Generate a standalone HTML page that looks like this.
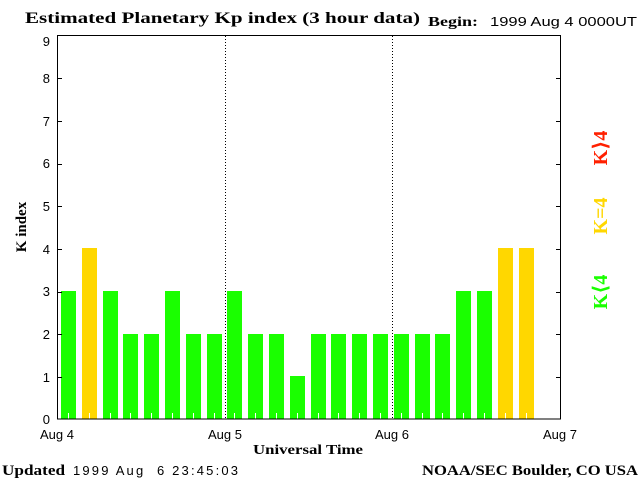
<!DOCTYPE html>
<html><head><meta charset="utf-8"><style>body{margin:0;background:#fff}svg{display:block}</style></head>
<body>
<svg width="640" height="480" xmlns="http://www.w3.org/2000/svg">
<rect width="640" height="480" fill="#fff"/>
<text x="25" y="23" font-family="Liberation Serif, serif" font-weight="bold" font-size="16" textLength="395" lengthAdjust="spacingAndGlyphs">Estimated Planetary Kp index (3 hour data)</text>
<text x="428" y="26" font-family="Liberation Serif, serif" font-weight="bold" font-size="14" textLength="50" lengthAdjust="spacingAndGlyphs">Begin:</text>
<text x="490" y="26" font-family="Liberation Sans, sans-serif" font-size="13" textLength="147" lengthAdjust="spacingAndGlyphs">1999 Aug 4 0000UT</text>
<g>
<rect x="61" y="291" width="15" height="128" fill="#1aff00"/>
<rect x="82" y="248" width="15" height="171" fill="#ffd700"/>
<rect x="103" y="291" width="15" height="128" fill="#1aff00"/>
<rect x="123" y="334" width="15" height="85" fill="#1aff00"/>
<rect x="144" y="334" width="15" height="85" fill="#1aff00"/>
<rect x="165" y="291" width="15" height="128" fill="#1aff00"/>
<rect x="186" y="334" width="15" height="85" fill="#1aff00"/>
<rect x="207" y="334" width="15" height="85" fill="#1aff00"/>
<rect x="227" y="291" width="15" height="128" fill="#1aff00"/>
<rect x="248" y="334" width="15" height="85" fill="#1aff00"/>
<rect x="269" y="334" width="15" height="85" fill="#1aff00"/>
<rect x="290" y="376" width="15" height="43" fill="#1aff00"/>
<rect x="311" y="334" width="15" height="85" fill="#1aff00"/>
<rect x="331" y="334" width="15" height="85" fill="#1aff00"/>
<rect x="352" y="334" width="15" height="85" fill="#1aff00"/>
<rect x="373" y="334" width="15" height="85" fill="#1aff00"/>
<rect x="394" y="334" width="15" height="85" fill="#1aff00"/>
<rect x="415" y="334" width="15" height="85" fill="#1aff00"/>
<rect x="435" y="334" width="15" height="85" fill="#1aff00"/>
<rect x="456" y="291" width="15" height="128" fill="#1aff00"/>
<rect x="477" y="291" width="15" height="128" fill="#1aff00"/>
<rect x="498" y="248" width="15" height="171" fill="#ffd700"/>
<rect x="519" y="248" width="15" height="171" fill="#ffd700"/>
</g>
<path stroke="#fff" stroke-width="1" d="M68.5 413v6M89.5 413v6M110.5 413v6M130.5 413v6M151.5 413v6M172.5 413v6M193.5 413v6M214.5 413v6M234.5 413v6M255.5 413v6M276.5 413v6M297.5 413v6M318.5 413v6M338.5 413v6M359.5 413v6M380.5 413v6M401.5 413v6M422.5 413v6M442.5 413v6M463.5 413v6M484.5 413v6M505.5 413v6M526.5 413v6"/>
<g stroke="#000" stroke-width="1" fill="none">
<rect x="57.5" y="35.5" width="503" height="383.5"/>
<line x1="225.5" y1="36" x2="225.5" y2="419" stroke-dasharray="1,2"/>
<line x1="392.5" y1="36" x2="392.5" y2="419" stroke-dasharray="1,2"/>
<path d="M57 377.5h5M57 334.5h5M57 292.5h5M57 249.5h5M57 206.5h5M57 164.5h5M57 121.5h5M57 78.5h5M561 377.5h-5M561 334.5h-5M561 292.5h-5M561 249.5h-5M561 206.5h-5M561 164.5h-5M561 121.5h-5M561 78.5h-5"/>
</g>
<g font-family="Liberation Sans, sans-serif" font-size="13" text-anchor="end">
<text x="50" y="424">0</text><text x="50" y="382">1</text><text x="50" y="339">2</text><text x="50" y="296">3</text><text x="50" y="254">4</text><text x="50" y="211">5</text><text x="50" y="168">6</text><text x="50" y="126">7</text><text x="50" y="83">8</text><text x="50" y="46">9</text>
</g>
<g font-family="Liberation Sans, sans-serif" font-size="13" text-anchor="middle">
<text x="57" y="439">Aug 4</text><text x="225" y="439">Aug 5</text><text x="392" y="439">Aug 6</text><text x="560" y="439">Aug 7</text>
</g>
<text x="253" y="454" font-family="Liberation Serif, serif" font-weight="bold" font-size="14" textLength="110" lengthAdjust="spacingAndGlyphs">Universal Time</text>
<text x="26" y="227" text-anchor="middle" transform="rotate(-90 26 227)" font-family="Liberation Serif, serif" font-weight="bold" font-size="15">K index</text>
<text x="2" y="475" font-family="Liberation Serif, serif" font-weight="bold" font-size="15" textLength="63" lengthAdjust="spacingAndGlyphs">Updated</text>
<text x="73" y="475" font-family="Liberation Sans, sans-serif" font-size="13" textLength="165" lengthAdjust="spacing" xml:space="preserve">1999 Aug  6 23:45:03</text>
<text x="422" y="475" font-family="Liberation Serif, serif" font-weight="bold" font-size="15" textLength="216" lengthAdjust="spacingAndGlyphs">NOAA/SEC Boulder, CO USA</text>
<g font-family="Liberation Serif, DejaVu Serif, serif" font-weight="bold" font-size="20" text-anchor="middle">
<text x="607" y="148" transform="rotate(-90 607 148)" fill="#ff2000">K⟩4</text>
<text x="607" y="216" transform="rotate(-90 607 216)" fill="#ffd700">K=4</text>
<text x="607" y="292" transform="rotate(-90 607 292)" fill="#1aff00">K⟨4</text>
</g>
</svg>
</body></html>
